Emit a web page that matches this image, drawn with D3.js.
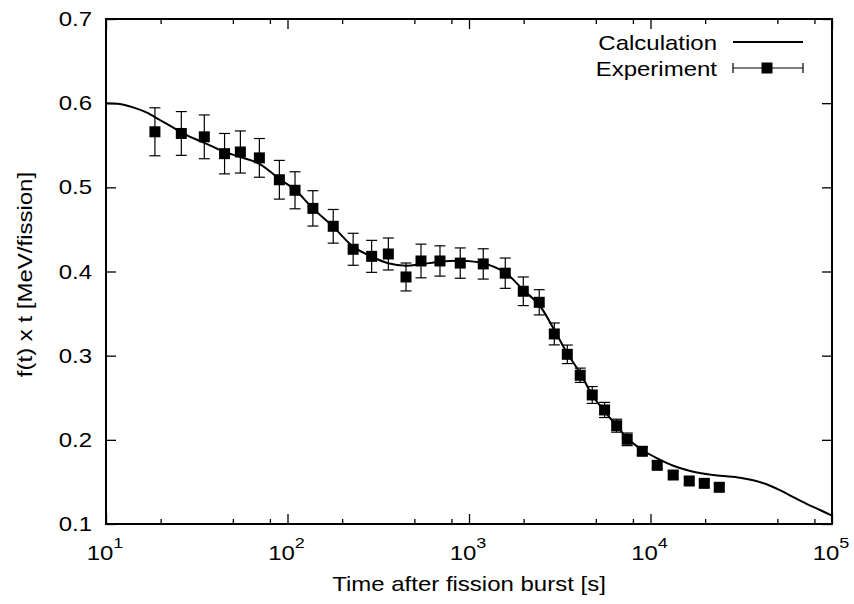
<!DOCTYPE html>
<html>
<head>
<meta charset="utf-8">
<script src="https://cdn.jsdelivr.net/npm/d3@7"></script>
<style>
  body { margin: 0; background: #fff; }
  text { font-family: "Liberation Sans", Arial, Helvetica, sans-serif; fill: #000; }
</style>
</head>
<body>
<script>
const expTime = [18.6, 26.0, 34.8, 45.0, 55.0, 70.0, 90.2, 110, 138, 178.6, 230, 290.8,
  359.4, 449.7, 543.9, 692, 895, 1198, 1584, 1991, 2438, 2951, 3480, 4100, 4775, 5585,
  6510, 7440, 9010, 10890, 13340, 16350, 19790, 23930];
const expValue = [0.566, 0.564, 0.560, 0.540, 0.542, 0.535, 0.509, 0.4965, 0.475, 0.4537,
  0.4264, 0.418, 0.4208, 0.3935, 0.4125, 0.4125, 0.410, 0.409, 0.398, 0.3765, 0.3634,
  0.3258, 0.3016, 0.2767, 0.2533, 0.2355, 0.2168, 0.2006, 0.1864, 0.1697, 0.1582, 0.1511,
  0.1483, 0.1436];
const expError = [0.0285, 0.026, 0.026, 0.024, 0.025, 0.023, 0.023, 0.022, 0.021, 0.020,
  0.019, 0.019, 0.019, 0.0166, 0.020, 0.018, 0.018, 0.018, 0.018, 0.017, 0.015, 0.013,
  0.011, 0.0085, 0.010, 0.009, 0.0077, 0.0075, 0.005, 0.004, 0.004, 0.004, 0.004, 0.004];

// calculated curve
const calcTime = [10, 11.9, 14.1, 16.7, 19.8, 23.5, 27.8, 33.0, 39.0, 45.1, 55.0, 70.0,
  90.2, 110, 138, 179, 230, 291, 359, 450, 544, 692, 895, 1199, 1585, 1991, 2438, 2951,
  3480, 4100, 4775, 5600, 6460, 7450, 9020, 10900, 13360, 16360, 19790, 24150, 31100,
  36800, 43600, 51600, 61200, 72400, 85900, 100000];
const calcValue = [0.600, 0.599, 0.595, 0.589, 0.580, 0.571, 0.562, 0.555, 0.548, 0.542,
  0.536, 0.528, 0.510, 0.497, 0.475, 0.453, 0.4295, 0.4176, 0.4098, 0.4069, 0.4086,
  0.4117, 0.4128, 0.4098, 0.3986, 0.378, 0.3602, 0.3305, 0.3028, 0.2791, 0.2533, 0.2335,
  0.2176, 0.2018, 0.1879, 0.178, 0.1692, 0.1633, 0.1598, 0.1573, 0.1550, 0.1520, 0.1472,
  0.1402, 0.1320, 0.1240, 0.1166, 0.110];

const yTicks = [0.1, 0.2, 0.3, 0.4, 0.5, 0.6, 0.7];
const xExponents = [1, 2, 3, 4, 5];
const minorFactors = [2, 5, 8];
const legendLabels = ["Calculation", "Experiment"];
const xTitle = "Time after fission burst [s]";
const yTitle = "f(t) x t [MeV/fission]";

const W = 854, H = 604;
const margin = { top: 19, right: 22, bottom: 80, left: 106 };
const FS = 20, SX = 1.2; // font is drawn a bit wider than tall

const svg = d3.select(document.body).append('svg')
  .attr('width', W)
  .attr('height', H);

const x = d3.scaleLog().domain([10, 1e5]).range([margin.left, W - margin.right]);
const y = d3.scaleLinear().domain([0.1, 0.7]).range([H - margin.bottom, margin.top]);

const majorX = xExponents.map(e => Math.pow(10, e));
const minorX = [];
xExponents.slice(0, -1).forEach(e => minorFactors.forEach(f => minorX.push(f * Math.pow(10, e))));

// tick marks (inward, mirrored)
function ticks(axis, transform) {
  svg.append('g')
    .attr('transform', transform)
    .call(axis)
    .call(g => g.select('.domain').remove())
    .call(g => g.selectAll('text').remove())
    .call(g => g.selectAll('line').attr('stroke', '#000').attr('stroke-width', 1.3));
}
ticks(d3.axisBottom(x).tickValues(majorX).tickSize(-10), `translate(0,${y(0.1)})`);
ticks(d3.axisBottom(x).tickValues(minorX).tickSize(-5), `translate(0,${y(0.1)})`);
ticks(d3.axisTop(x).tickValues(majorX).tickSize(-10), `translate(0,${y(0.7)})`);
ticks(d3.axisTop(x).tickValues(minorX).tickSize(-5), `translate(0,${y(0.7)})`);
ticks(d3.axisLeft(y).tickValues(yTicks).tickSize(-10), `translate(${x(10)},0)`);
ticks(d3.axisRight(y).tickValues(yTicks).tickSize(-10), `translate(${x(1e5)},0)`);

// frame
svg.append('rect')
  .attr('x', x(10)).attr('y', y(0.7))
  .attr('width', x(1e5) - x(10)).attr('height', y(0.1) - y(0.7))
  .attr('fill', 'none').attr('stroke', '#000').attr('stroke-width', 2);

function label(px, py, anchor, rot) {
  return svg.append('text')
    .attr('transform', `translate(${px},${py})${rot ? ` rotate(${rot})` : ''} scale(${SX},1)`)
    .attr('text-anchor', anchor)
    .style('font-size', FS + 'px');
}

// y tick labels
yTicks.forEach(v => {
  label(x(10) - 14, y(v) + 7, 'end').text(d3.format('.1f')(v));
});

// x tick labels 10^n
xExponents.forEach(e => {
  const t = label(x(Math.pow(10, e)) - 1, y(0.1) + 36, 'middle');
  t.append('tspan').text('10');
  t.append('tspan').attr('dy', -12).style('font-size', '15px').text(e);
});

// axis titles
label((x(10) + x(1e5)) / 2, y(0.1) + 67, 'middle').text(xTitle);
label(32, (y(0.1) + y(0.7)) / 2 + 3, 'middle', -90).text(yTitle);

// calculation curve
const line = d3.line()
  .x(d => x(d[0]))
  .y(d => y(d[1]))
  .curve(d3.curveCatmullRom.alpha(0.5));

svg.append('path')
  .datum(calcTime.map((t, i) => [t, calcValue[i]]))
  .attr('d', line)
  .attr('fill', 'none')
  .attr('stroke', '#000')
  .attr('stroke-width', 2);

// experiment with error bars
const exp = expTime.map((t, i) => ({ t, v: expValue[i], e: expError[i] }));
const cap = 5.5, box = 11;

const eb = svg.append('g').attr('stroke', '#000').attr('stroke-width', 1.2);
exp.forEach(d => {
  const cx = x(d.t);
  eb.append('line').attr('x1', cx).attr('x2', cx).attr('y1', y(d.v - d.e)).attr('y2', y(d.v + d.e));
  eb.append('line').attr('x1', cx - cap).attr('x2', cx + cap).attr('y1', y(d.v - d.e)).attr('y2', y(d.v - d.e));
  eb.append('line').attr('x1', cx - cap).attr('x2', cx + cap).attr('y1', y(d.v + d.e)).attr('y2', y(d.v + d.e));
});

svg.selectAll('.marker')
  .data(exp)
  .enter().append('rect')
  .attr('class', 'marker')
  .attr('x', d => x(d.t) - box / 2)
  .attr('y', d => y(d.v) - box / 2)
  .attr('width', box)
  .attr('height', box)
  .attr('fill', '#000');

// legend
const legX1 = 733, legX2 = 803, legY = [42, 68];
label(717, legY[0] + 8, 'end').text(legendLabels[0]);
label(717, legY[1] + 8, 'end').text(legendLabels[1]);

svg.append('line')
  .attr('x1', legX1).attr('x2', legX2).attr('y1', legY[0]).attr('y2', legY[0])
  .attr('stroke', '#000').attr('stroke-width', 2);

const lg = svg.append('g').attr('stroke', '#000').attr('stroke-width', 1.2);
lg.append('line').attr('x1', legX1).attr('x2', legX2).attr('y1', legY[1]).attr('y2', legY[1]);
lg.append('line').attr('x1', legX1).attr('x2', legX1).attr('y1', legY[1] - 5).attr('y2', legY[1] + 5);
lg.append('line').attr('x1', legX2).attr('x2', legX2).attr('y1', legY[1] - 5).attr('y2', legY[1] + 5);
svg.append('rect')
  .attr('x', (legX1 + legX2) / 2 - box / 2 - 1).attr('y', legY[1] - box / 2)
  .attr('width', box).attr('height', box).attr('fill', '#000');
</script>
</body>
</html>
